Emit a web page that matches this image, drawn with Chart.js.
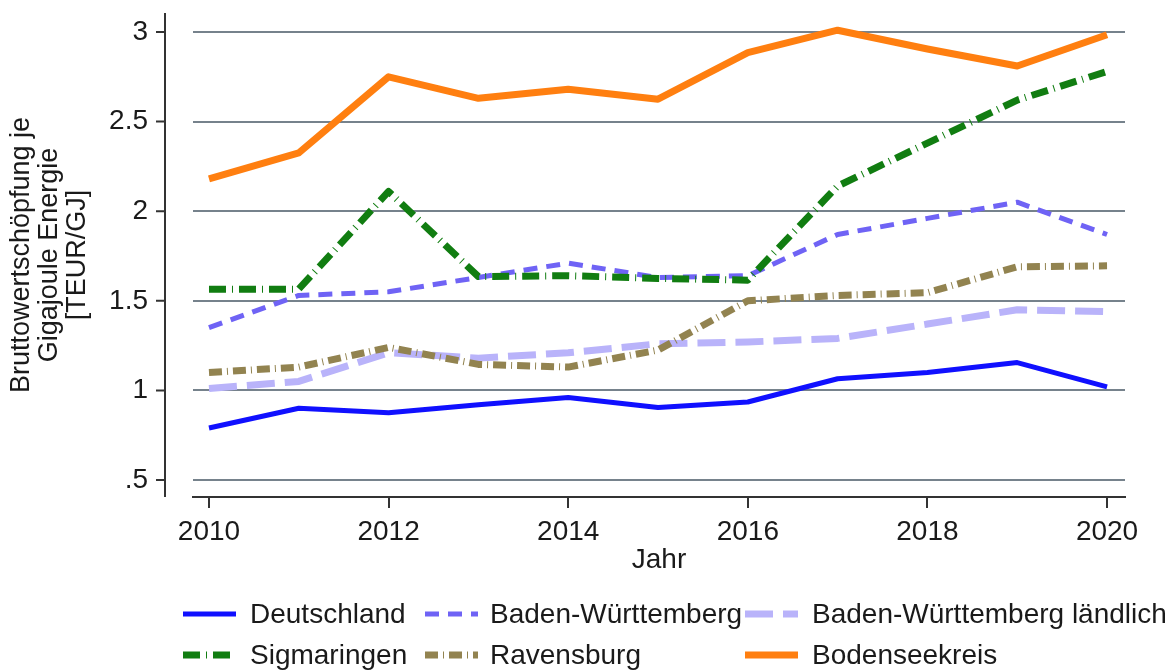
<!DOCTYPE html>
<html lang="de">
<head>
  <meta charset="UTF-8">
  <title>Bruttowertschöpfung je Gigajoule Energie</title>
  <script src="https://cdn.jsdelivr.net/npm/chart.js"></script>
  <style>
    * {
      box-sizing: border-box;
      margin: 0;
      padding: 0;
    }
    body {
      background: #fff;
      width: 1173px;
      height: 670px;
      overflow: hidden;
    }
    #wrap {
      position: relative;
      width: 1173px;
      height: 670px;
    }
  </style>
</head>
<body>
  <div id="wrap">
    <canvas id="chart"></canvas>
  </div>

  <script>
    // Jahre und Werte (TEUR je GJ)
    const years = [2010, 2011, 2012, 2013, 2014, 2015, 2016, 2017, 2018, 2019, 2020];
    const deutschland  = [0.79, 0.90, 0.875, 0.92, 0.96, 0.905, 0.935, 1.065, 1.10, 1.155, 1.02];
    const bw           = [1.35, 1.53, 1.55, 1.63, 1.71, 1.63, 1.64, 1.87, 1.96, 2.05, 1.87];
    const bwLaendlich  = [1.01, 1.05, 1.21, 1.18, 1.21, 1.26, 1.27, 1.29, 1.37, 1.45, 1.44];
    const sigmaringen  = [1.565, 1.565, 2.11, 1.635, 1.64, 1.625, 1.615, 2.14, 2.38, 2.62, 2.78];
    const ravensburg   = [1.10, 1.13, 1.24, 1.145, 1.13, 1.225, 1.50, 1.53, 1.545, 1.69, 1.695];
    const bodensee     = [2.18, 2.325, 2.75, 2.63, 2.68, 2.625, 2.885, 3.01, 2.905, 2.81, 2.985];

    const yTicks = [0.5, 1, 1.5, 2, 2.5, 3];
    const xTicks = [2010, 2012, 2014, 2016, 2018, 2020];

    const FONT = "'Liberation Sans', Arial, sans-serif";
    const TEXT_COLOR = '#1a1a1a';
    const AXIS_COLOR = '#333';
    const GRID_COLOR = '#76828c';

    function pts(values) {
      return years.map((yr, i) => ({ x: yr, y: values[i] }));
    }

    const series = [
      { label: 'Deutschland', data: deutschland, color: '#1010ff', width: 5, dash: [] },
      { label: 'Baden-Württemberg', data: bw, color: '#6f63f5', width: 5, dash: [14, 9] },
      { label: 'Baden-Württemberg ländlich', data: bwLaendlich, color: '#b9b3fa', width: 7, dash: [28, 10] },
      { label: 'Sigmaringen', data: sigmaringen, color: '#117d11', width: 7, dash: [17, 6, 1, 6] },
      { label: 'Ravensburg', data: ravensburg, color: '#928350', width: 7, dash: [13, 5, 1, 5] },
      { label: 'Bodenseekreis', data: bodensee, color: '#ff7f10', width: 7, dash: [] }
    ];

    // y-Achse (links versetzt) mit Tickstrichen
    const offsetAxisPlugin = {
      id: 'offsetAxis',
      afterDraw(chart) {
        const ctx = chart.ctx;
        const y = chart.scales.y;
        const area = chart.chartArea;
        const axisX = 165;
        ctx.save();
        ctx.strokeStyle = AXIS_COLOR;
        ctx.lineWidth = 2;
        ctx.beginPath();
        ctx.moveTo(axisX, area.top);
        ctx.lineTo(axisX, area.bottom);
        yTicks.forEach(v => {
          const py = y.getPixelForValue(v);
          ctx.moveTo(axisX - 9, py);
          ctx.lineTo(axisX, py);
        });
        ctx.stroke();
        ctx.restore();
      }
    };

    // Legende in zwei Zeilen, drei Spalten
    const legendPlugin = {
      id: 'gridLegend',
      afterDraw(chart) {
        const ctx = chart.ctx;
        const lineX = [183, 425, 745];
        const textX = [250, 490, 812];
        const rowY = [614, 655];
        ctx.save();
        ctx.font = '28px ' + FONT;
        ctx.textBaseline = 'middle';
        ctx.textAlign = 'left';
        chart.data.datasets.forEach((ds, i) => {
          const col = i % 3;
          const row = Math.floor(i / 3);
          const yy = rowY[row];
          ctx.strokeStyle = ds.borderColor;
          ctx.lineWidth = Math.max(ds.borderWidth, 5);
          ctx.lineCap = 'butt';
          ctx.setLineDash(ds.borderDash || []);
          ctx.beginPath();
          ctx.moveTo(lineX[col], yy);
          ctx.lineTo(lineX[col] + 53, yy);
          ctx.stroke();
          ctx.setLineDash([]);
          ctx.fillStyle = TEXT_COLOR;
          ctx.fillText(ds.label, textX[col], yy + 1);
        });
        ctx.restore();
      }
    };

    const ctx = document.getElementById('chart').getContext('2d');
    new Chart(ctx, {
      type: 'line',
      data: {
        datasets: series.map((s, i) => ({
          label: s.label,
          data: pts(s.data),
          borderColor: s.color,
          backgroundColor: s.color,
          borderWidth: s.width,
          borderDash: s.dash,
          borderCapStyle: 'butt',
          borderJoinStyle: 'round',
          pointRadius: 0,
          tension: 0,
          fill: false,
          order: series.length - i
        }))
      },
      options: {
        responsive: true,
        maintainAspectRatio: false,
        animation: false,
        layout: {
          padding: { top: 13, right: 48, left: 0, bottom: 0 }
        },
        plugins: {
          legend: { display: false },
          tooltip: { enabled: false }
        },
        scales: {
          x: {
            type: 'linear',
            min: 2009.822,
            max: 2020.2,
            afterBuildTicks: scale => { scale.ticks = xTicks.map(v => ({ value: v })); },
            afterFit: scale => { scale.height = 173; },
            grid: {
              display: true,
              drawOnChartArea: false,
              drawTicks: true,
              tickLength: 11,
              color: AXIS_COLOR,
              lineWidth: 2
            },
            border: { display: true, color: AXIS_COLOR, width: 2 },
            ticks: {
              font: { family: FONT, size: 28 },
              color: TEXT_COLOR,
              padding: 7,
              maxRotation: 0,
              callback: v => String(v)
            },
            title: {
              display: true,
              text: 'Jahr',
              font: { family: FONT, size: 28 },
              color: TEXT_COLOR,
              padding: { top: 0, bottom: 93 }
            }
          },
          y: {
            type: 'linear',
            min: 0.405,
            max: 3.106,
            afterBuildTicks: scale => { scale.ticks = yTicks.map(v => ({ value: v })); },
            afterFit: scale => { scale.width = 193; },
            grid: {
              display: true,
              drawTicks: true,
              tickLength: 45,
              tickColor: 'rgba(0,0,0,0)',
              color: GRID_COLOR,
              lineWidth: 2
            },
            border: { display: false },
            ticks: {
              font: { family: FONT, size: 28, lineHeight: 0.9 },
              color: TEXT_COLOR,
              padding: 0,
              callback: v => (v < 1 ? String(v).replace(/^0/, '') : String(v))
            },
            title: {
              display: true,
              text: ['Bruttowertschöpfung je', 'Gigajoule Energie', '[TEUR/GJ]'],
              font: { family: FONT, size: 27, lineHeight: 1.03 },
              color: TEXT_COLOR,
              padding: { top: 8, bottom: 0 }
            }
          }
        }
      },
      plugins: [offsetAxisPlugin, legendPlugin]
    });
  </script>
</body>
</html>
